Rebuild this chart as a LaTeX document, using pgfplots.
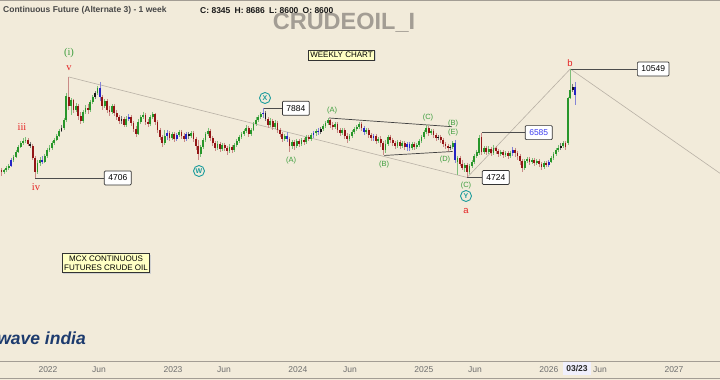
\documentclass[border=0pt]{standalone}
\usepackage{pgfplots}
\pgfplotsset{compat=1.18}
\usepackage{pgfplotstable}
\usepackage{fontspec}
\setmainfont{Liberation Sans}
\newfontfamily\serifF{Liberation Serif}
\usetikzlibrary{shadows}
\definecolor{bg}{HTML}{F2EBDA}
\definecolor{cgreen}{HTML}{28962A}
\definecolor{wgreen}{HTML}{7DBE78}
\definecolor{cred}{HTML}{931515}
\definecolor{wred}{HTML}{C98A86}
\definecolor{cblue}{HTML}{2424C4}
\definecolor{wblue}{HTML}{8484D6}
\definecolor{cblack}{HTML}{151515}
\definecolor{wblack}{HTML}{7A7A7A}
\definecolor{trendgray}{HTML}{B9B1A6}
\definecolor{lblgreen}{HTML}{3E9E3E}
\definecolor{lblred}{HTML}{E52424}
\definecolor{circteal}{HTML}{1C9C9C}
\definecolor{tickgray}{HTML}{6E6E6E}
\definecolor{framegray}{HTML}{A39D94}
\definecolor{noteyellow}{HTML}{FFFFC4}
\definecolor{logoblue}{HTML}{1D3B6E}
\definecolor{lblblue}{HTML}{3C3CF0}

\pgfplotstableread{
w o h l c k
0 4993 5068 4776 4920 1
1 4920 5030 4847 4993 0
2 4993 5143 4920 5068 0
3 5068 5220 4993 5143 0
4 5143 5457 5105 5377 2
5 5377 5580 5298 5498 0
6 5498 5790 5457 5705 0
7 5705 6008 5663 5920 0
8 5920 6189 5876 6098 0
9 6098 6328 6008 6189 0
10 6189 6375 6098 6235 0
11 6235 6328 5964 6053 1
12 6053 6143 5876 5964 3
13 5964 6053 5377 5457 1
14 5457 5538 4706 4920 1
15 4920 5377 4847 5259 0
16 5259 5498 5143 5377 0
17 5377 5538 5220 5298 2
18 5298 5621 5259 5538 0
19 5538 5876 5457 5790 0
20 5790 6008 5705 5876 0
21 5876 6189 5790 6098 0
22 6098 6328 6008 6235 0
23 6235 6518 6189 6422 0
24 6422 6764 6375 6664 0
25 6664 6967 6615 6814 3
26 6814 7338 6714 7230 0
27 7230 8831 7124 8637 0
28 8573 9942 7786 8020 1
29 8020 8510 7503 8384 0
30 8384 8447 7615 7786 1
31 7786 8200 7671 8020 0
32 8020 8140 7230 7447 1
33 7447 7671 7019 7177 1
34 7177 7786 7071 7671 0
35 7671 8080 7558 7902 0
36 7902 8140 7558 7786 1
37 7786 8384 7671 8261 0
38 8261 8701 8140 8573 0
39 8573 8963 8447 8831 3
40 8831 9301 8701 9164 0
41 9164 9581 8322 8573 2
42 8573 8701 7786 8020 1
43 8020 8447 7902 8322 0
44 8322 8447 7615 7786 1
45 7786 8020 7447 7671 1
46 7671 8140 7558 8020 0
47 8020 8140 7447 7615 1
48 7615 7786 7230 7392 1
49 7392 7503 7019 7177 1
50 7177 7447 7019 7284 3
51 7284 7392 6865 6967 1
52 6967 7447 6865 7284 0
53 7284 7558 7177 7392 2
54 7392 7503 6916 7071 1
55 7071 7177 6615 6764 1
56 6764 6916 6375 6518 1
57 6518 7284 6470 7124 0
58 7124 7503 7019 7392 0
59 7392 7671 7284 7503 0
60 7503 7615 6967 7124 1
61 7124 7284 6865 7019 1
62 7019 7503 6916 7392 0
63 7392 7671 7284 7558 0
64 7558 7615 6967 7124 1
65 7124 7230 6566 6714 1
66 6714 6814 6235 6375 1
67 6375 6470 5920 6098 1
68 6098 6714 6008 6422 0
69 6422 6714 6235 6566 2
70 6566 6664 6189 6328 1
71 6328 6615 6235 6518 0
72 6518 6615 6143 6281 1
73 6281 6566 6189 6470 2
74 6470 6714 6375 6615 0
75 6615 6714 6281 6422 1
76 6422 6566 6143 6281 1
77 6281 6615 6189 6518 2
78 6518 6615 6281 6422 3
79 6422 6664 6328 6566 0
80 6566 6664 6143 6281 1
81 6281 6375 5790 5964 1
82 5964 6235 5377 5621 1
83 5621 6008 5498 5920 0
84 5920 6328 5833 6235 0
85 6235 6615 6143 6518 0
86 6518 6814 6422 6664 0
87 6664 6764 6189 6328 1
88 6328 6422 5964 6098 1
89 6098 6189 5747 5876 1
90 5876 6189 5790 6053 0
91 6053 6143 5705 5833 1
92 5833 6098 5747 6008 0
93 6008 6098 5747 5876 1
94 5876 5964 5580 5747 1
95 5747 6053 5663 5920 0
96 5920 6008 5663 5790 1
97 5790 6098 5705 6008 0
98 6008 6281 5920 6189 0
99 6189 6470 6098 6375 0
100 6375 6615 6281 6518 0
101 6518 6764 6422 6664 0
102 6664 6967 6566 6814 0
103 6814 6916 6375 6518 1
104 6518 6814 6422 6714 0
105 6714 7124 6664 7019 0
106 7019 7392 6916 7230 0
107 7230 7503 7124 7392 0
108 7392 7671 7284 7558 0
109 7558 7884 7338 7615 2
110 7615 7728 7177 7284 3
111 7284 7392 6814 6967 1
112 6967 7338 6865 7177 0
113 7177 7284 6714 6865 1
114 6865 7230 6764 7071 0
115 7071 7177 6566 6714 1
116 6714 6814 6375 6518 1
117 6518 6615 6143 6281 1
118 6281 6518 6189 6422 0
119 6422 6615 6143 6281 2
120 6281 6375 5705 5964 1
121 5964 6235 5833 6143 0
122 6143 6235 5790 5964 1
123 5964 6281 5876 6189 0
124 6189 6281 5920 6053 1
125 6053 6328 5964 6235 0
126 6235 6328 6008 6143 1
127 6143 6470 6053 6375 0
128 6375 6470 6189 6281 1
129 6281 6566 6189 6470 0
130 6470 6664 6328 6566 2
131 6566 6764 6422 6664 0
132 6664 6814 6470 6615 2
133 6615 6865 6518 6764 3
134 6764 7019 6664 6916 0
135 6916 7177 6814 7071 0
136 7071 7338 6967 7230 0
137 7230 7284 6814 6967 1
138 6967 7124 6714 6865 1
139 6865 7124 6764 7019 0
140 7019 7124 6566 6714 1
141 6714 6814 6422 6566 1
142 6566 6814 6470 6714 0
143 6714 6814 6281 6422 1
144 6422 6566 6098 6281 1
145 6281 6518 6189 6422 0
146 6422 6714 6328 6615 0
147 6615 6865 6518 6764 0
148 6764 6967 6664 6865 0
149 6865 7124 6764 7019 0
150 7019 7124 6664 6814 1
151 6814 6916 6470 6615 2
152 6615 6814 6518 6714 0
153 6714 6814 6328 6470 1
154 6470 6566 6189 6328 1
155 6328 6518 6189 6422 2
156 6422 6518 6053 6189 1
157 6189 6375 6098 6281 0
158 6281 6422 5920 6098 1
159 6098 6189 5580 5790 1
160 5790 6235 5663 6053 0
161 6053 6470 5964 6375 0
162 6375 6470 6098 6235 1
163 6235 6328 5964 6098 1
164 6098 6189 5833 5964 1
165 5964 6235 5876 6143 0
166 6143 6235 5833 5964 1
167 5964 6189 5876 6098 0
168 6098 6189 5790 5920 1
169 5920 6143 5747 6053 2
170 6053 6143 5747 5876 2
171 5876 6143 5790 6053 0
172 6053 6143 5790 5920 1
173 5920 6098 5833 6008 0
174 6008 6281 5920 6189 0
175 6189 6470 6098 6375 0
176 6375 6714 6281 6615 0
177 6615 6967 6518 6814 0
178 6814 6916 6422 6566 1
179 6566 6764 6470 6664 0
180 6664 6764 6328 6470 1
181 6470 6566 6189 6328 1
182 6328 6470 6235 6375 3
183 6375 6470 6098 6235 1
184 6235 6328 5920 6053 1
185 6053 6143 5833 5964 1
186 5964 6053 5747 5876 1
187 5876 6008 5790 5920 3
188 5920 6189 5833 6098 0
189 6098 6235 5259 5377 2
190 5298 5538 4812 5457 0
191 5457 5538 5143 5220 1
192 5220 5377 4993 5068 1
193 5068 5259 4920 5182 0
194 5182 5259 4724 4920 1
195 4920 5220 4847 5143 0
196 5143 5377 5068 5298 0
197 5298 5621 5220 5538 0
198 5538 5790 5457 5705 0
199 5663 6470 5580 6328 0
200 6375 6585 5580 5705 1
201 5705 5964 5621 5876 0
202 5876 5964 5580 5705 1
203 5705 5964 5621 5833 0
204 5833 5920 5538 5663 1
205 5663 6008 5580 5876 0
206 5876 5964 5621 5747 1
207 5747 5833 5498 5621 1
208 5621 5790 5538 5705 0
209 5705 5790 5457 5580 1
210 5580 5747 5498 5663 0
211 5663 5747 5417 5538 1
212 5538 5747 5457 5663 0
213 5663 5920 5538 5790 2
214 5790 5876 5498 5663 1
215 5663 5747 5377 5538 1
216 5538 5621 5182 5337 1
217 5337 5417 4920 5068 1
218 5068 5417 4993 5337 0
219 5337 5498 5259 5417 0
220 5417 5498 5182 5298 1
221 5298 5457 5220 5377 0
222 5377 5457 5143 5259 1
223 5259 5417 5182 5337 0
224 5337 5417 5105 5220 1
225 5220 5298 4993 5105 1
226 5105 5337 5030 5259 0
227 5259 5337 5105 5182 1
228 5182 5377 5105 5298 2
229 5298 5538 5259 5457 0
230 5457 5705 5377 5621 0
231 5621 5876 5538 5790 0
232 5790 6008 5705 5876 0
233 5876 6098 5790 5964 3
234 5964 6189 5876 6098 0
235 6098 6189 5790 5920 1
236 6098 8573 6008 8510 0
237 8510 10549 8447 9029 0
238 9029 9440 8897 9232 3
239 9232 9581 8080 8701 2
}\candles

\newcommand{\candleplot}[3]{%
  \addplot[draw=none, mark=none, forget plot,
    restrict expr to domain={\thisrow{k}}{#1:#1},
    error bars/.cd, y dir=minus, y explicit, error mark=none,
    error bar style={draw=#3, line width=0.8pt}]
    table[x=w, y=h, y error minus expr={\thisrow{h}-\thisrow{l}}] {\candles};
  \addplot[draw=none, mark=none, forget plot,
    restrict expr to domain={\thisrow{k}}{#1:#1},
    error bars/.cd, y dir=minus, y explicit, error mark=none,
    error bar style={draw=#2, line width=1.9pt}]
    table[x=w, y expr={max(\thisrow{o},\thisrow{c})},
          y error minus expr={abs(\thisrow{o}-\thisrow{c})}] {\candles};
}

\tikzset{
  pricebox/.style={draw=black!80, fill=white, rounded corners=1pt, line width=0.7pt,
    minimum height=14pt, inner xsep=4pt, inner ysep=0pt, anchor=west,
    font=\fontsize{8.5}{10}\selectfont},
  wl/.style={text=lblgreen, inner sep=0pt, font=\fontsize{7.5}{8}\selectfont},
  rl/.style={text=lblred, inner sep=0pt, font=\serifF\fontsize{10.5}{11}\selectfont},
  sl/.style={text=lblred, inner sep=0pt, font=\fontsize{9.5}{10}\selectfont},
  circ/.style={circle, draw=circteal, line width=0.9pt, minimum size=11pt, inner sep=0pt,
    text=circteal, font=\bfseries\fontsize{7}{7}\selectfont},
  note/.style={draw=black!80, fill=noteyellow, line width=0.6pt,
    drop shadow={shadow xshift=1.2pt, shadow yshift=-1.2pt, fill=black!18, opacity=1},
    font=\fontsize{8}{9.5}\selectfont, inner sep=2pt}
}

\begin{document}
\begin{tikzpicture}
\path[use as bounding box] (0,0) rectangle (720pt,380pt);
\clip (0,0) rectangle (720pt,380pt);
\fill[bg] (0,0) rectangle (720pt,380pt);
\node[inner sep=0pt, text=framegray, font=\bfseries\fontsize{23.5}{24}\selectfont] at (344pt,357pt) {CRUDEOIL\_I};

\begin{axis}[
  at={(0pt,18pt)}, anchor=south west, scale only axis,
  width=720pt, height=362pt,
  xmin=-0.625, xmax=299.375,
  ymode=log, ymin=1204.6, ymax=17583,
  axis line style={draw=none}, tick style={draw=none},
  ytick=\empty,
  xtick={19.375,40.625,71.46,92.7,123.5,145.2,176.0,197.3,228.1,249.4,280.2},
  xticklabels={2022,Jun,2023,Jun,2024,Jun,2025,Jun,2026,Jun,2027},
  xticklabel style={font=\fontsize{8.5}{10}\selectfont, text=tickgray, anchor=center, yshift=-7.5pt},
]
% trend lines
\addplot[trendgray, line width=0.6pt] coordinates {(28,9942) (194,4724)};
\addplot[trendgray, line width=0.6pt] coordinates {(194,4724) (237,10549)};
\addplot[trendgray, line width=0.6pt] coordinates {(237,10549) (299.4,4870)};
% triangle
\addplot[black!75, line width=0.7pt] coordinates {(136.5,7338) (187.7,6880)};
\addplot[black!75, line width=0.7pt] coordinates {(159.5,5560) (188,5726)};
% price level connectors
\addplot[black!70, line width=0.8pt] coordinates {(14,4706) (42.7,4706)};
\addplot[black!70, line width=0.8pt] coordinates {(109,7884) (116.9,7884)};
\addplot[black!70, line width=0.8pt] coordinates {(194,4724) (200.2,4724)};
\addplot[black!70, line width=0.8pt] coordinates {(200,6585) (218.1,6585)};
\addplot[black!70, line width=0.8pt] coordinates {(237,10549) (264.8,10549)};

\candleplot{0}{cgreen}{wgreen}
\candleplot{1}{cred}{wred}
\candleplot{2}{cblue}{wblue}
\candleplot{3}{cblack}{wblack}

\node[pricebox] at (axis cs:42.7,4706) {4706};
\node[pricebox] at (axis cs:116.9,7884) {7884};
\node[pricebox] at (axis cs:200.2,4724) {4724};
\node[pricebox, text=lblblue] at (axis cs:218.1,6585) {6585};
\node[pricebox] at (axis cs:264.8,10549) {10549};
\end{axis}

% frame lines
\draw[framegray, line width=1.3pt] (0,379.4pt) -- (720pt,379.4pt);
\draw[framegray, line width=1pt] (0,18.5pt) -- (720pt,18.5pt);
\draw[framegray, line width=1pt] (0,1pt) -- (720pt,1pt);

\begin{scope}[shift={(0pt,380pt)}, x=1pt, y=-1pt]
  % header
  \node[anchor=west, inner sep=0pt, text=black!72, font=\bfseries\fontsize{8.5}{10}\selectfont] at (3,10.5)
    {Continuous Future (Alternate 3) - 1 week};
  \node[anchor=west, inner sep=0pt, text=black!90, font=\bfseries\fontsize{8.5}{10}\selectfont] at (200,10.5)
    {C: 8345\hspace{0.5em}H: 8686\hspace{0.5em}L: 8600\hspace{0.5em}O: 8600};
  % notes
  \node[note] at (341.5,55) {WEEKLY CHART};
  \node[note, align=center] at (106,263) {MCX CONTINUOUS\\FUTURES CRUDE OIL};
  % logo
  \node[anchor=east, inner sep=0pt, text=logoblue, font=\bfseries\itshape\fontsize{17.5}{18}\selectfont] at (86,338) {wave india};
  % 03/23 marker and cut-off label
  \node[fill=black!10!blue!6, text=black!85, inner xsep=3pt, inner ysep=2pt, minimum height=13pt,
        font=\bfseries\fontsize{8.5}{10}\selectfont] at (577,369) {03/23};
  \node[text=tickgray, inner sep=0pt, font=\fontsize{8.5}{10}\selectfont] at (729,369) {Jun};
  % primary wave labels
  \node[text=lblgreen, inner sep=0pt, font=\serifF\fontsize{10.5}{11}\selectfont] at (69,53) {(i)};
  \node[rl] at (69,68) {v};
  \node[rl] at (22,127) {iii};
  \node[rl] at (36,187) {iv};
  \node[sl] at (466,211) {a};
  \node[sl] at (570,63) {b};
  % circled labels
  \node[circ] at (199,171) {W};
  \node[circ] at (265,98) {X};
  \node[circ] at (466,196) {Y};
  % minor labels
  \node[wl] at (291,161) {(A)};
  \node[wl] at (332,111) {(A)};
  \node[wl] at (384,165) {(B)};
  \node[wl] at (453,124) {(B)};
  \node[wl] at (428,118) {(C)};
  \node[wl] at (466,186) {(C)};
  \node[wl] at (445,160) {(D)};
  \node[wl] at (453,133) {(E)};
\end{scope}
\end{tikzpicture}
\end{document}
